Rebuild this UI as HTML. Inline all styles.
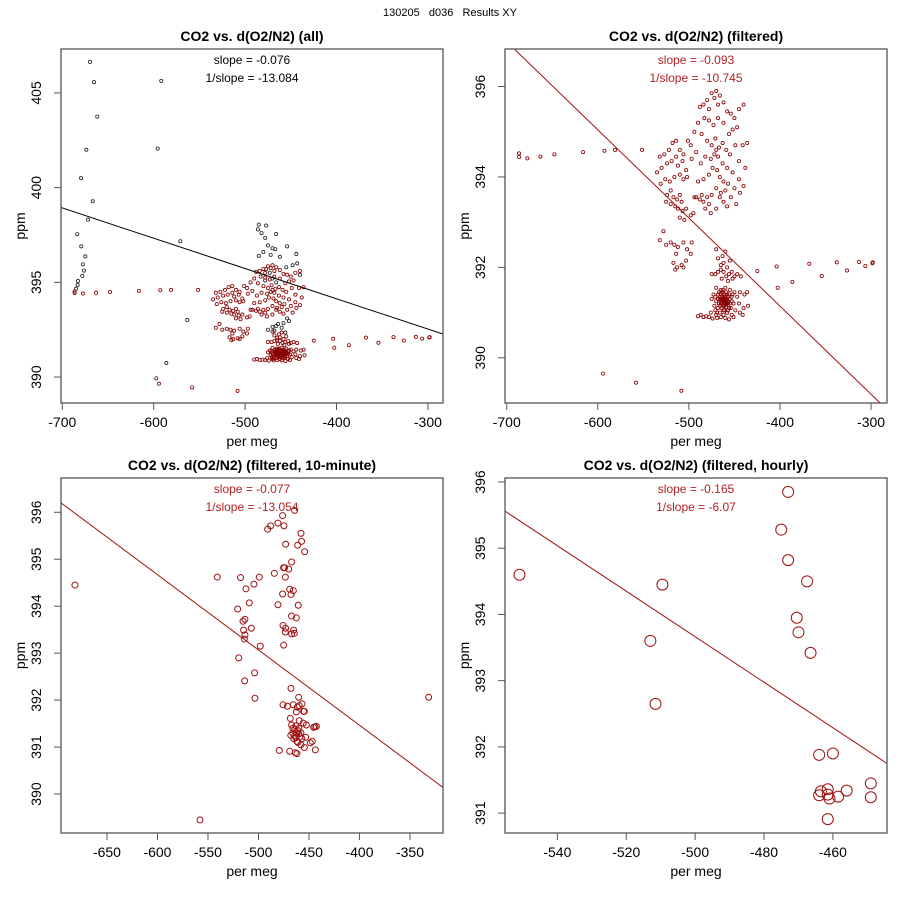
<!DOCTYPE html>
<html><head><meta charset="utf-8"><style>
html,body{margin:0;padding:0;background:#fff;}
svg{display:block;font-family:"Liberation Sans",sans-serif;}
</style></head><body>
<svg id="chart" width="900" height="900" viewBox="0 0 900 900">
<text x="450" y="16" text-anchor="middle" font-size="11" xml:space="preserve" style="white-space:pre">130205   d036   Results XY</text>
</svg>
<script>
// ---- data ----
const p1Ticks = {x:[-700,-600,-500,-400,-300], y:[390,395,400,405]};
const p2Ticks = {x:[-700,-600,-500,-400,-300], y:[390,392,394,396]};
const p3Ticks = {x:[-650,-600,-550,-500,-450,-400,-350], y:[390,391,392,393,394,395,396]};
const p4Ticks = {x:[-540,-520,-500,-480,-460], y:[391,392,393,394,395,396]};
const p1Slope = ["slope = -0.076","1/slope = -13.084"];
const p2Slope = ["slope = -0.093","1/slope = -10.745"];
const p3Slope = ["slope = -0.077","1/slope = -13.054"];
const p4Slope = ["slope = -0.165","1/slope = -6.07"];
const p1LineX = [-701.4,-283.5], p1LineY = [398.95,392.27];
const p2LineX = [-691.7,-290.1], p2LineY = [396.83,389.0];
const p3LineX = [-695.5,-317.3], p3LineY = [396.2,390.14];
const p4LineX = [-555.2,-444.3], p4LineY = [395.56,391.75];

const filtered = [
[-686.5,394.52],[-686.5,394.44],[-677.4,394.41],[-663,394.45],[-647.7,394.5],[-616.2,394.55],[-592.8,394.58],[-581,394.6],[-551.4,394.6],
[-424.9,391.92],[-403.6,392.02],[-402.5,391.55],[-386.4,391.68],[-367.8,392.08],[-354.1,391.81],[-337.7,392.11],[-326.4,391.93],[-313.2,392.12],[-306.3,392.03],[-298.1,392.11],[-298.5,392.09],
[-594.3,389.65],[-558,389.45],[-508.3,389.27],
[-475,395.85],[-470,395.9],[-466,395.8],[-480,395.7],[-484,395.6],[-488,395.55],[-478,395.5],[-472,395.75],[-468,395.6],[-462,395.65],[-458,395.45],[-454,395.4],[-450,395.3],[-445,395.5],[-440,395.6],[-447,395.1],[-452,395.05],[-456,394.95],[-462,395.2],[-468,395.3],[-473,395.15],[-478,395.25],[-483,395.3],[-490,395.2],[-494,395.0],[-486,394.95],[-480,394.8],[-475,394.7],[-471,394.85],[-467,394.65],[-463,394.75],[-459,394.6],[-455,394.5],[-449,394.7],[-441,394.7],[-436,394.75],[-470,394.6],[-472,394.5],[-468,394.45],[-476,394.4],[-482,394.45],[-487,394.3],[-492,394.55],[-497,394.4],[-463,394.3],[-458,394.2],[-452,394.1],[-445,394.35],[-438,394.2],[-474,394.2],[-469,394.15],[-478,394.05],[-484,393.95],[-490,393.9],[-466,394.0],[-462,393.9],[-457,393.85],[-450,393.75],[-445,393.95],[-440,393.8],[-470,393.75],[-475,393.6],[-480,393.55],[-486,393.6],[-492,393.55],[-466,393.55],[-462,393.45],[-458,393.35],[-454,393.55],[-448,393.4],[-470,393.3],[-476,393.2],[-482,393.3],[-465,393.65],[-460,393.7],[-444,393.65],
[-514,394.8],[-518,394.75],[-522,394.6],[-527,394.5],[-532,394.45],[-510,394.6],[-506,394.5],[-514,394.45],[-519,394.35],[-524,394.3],[-530,394.2],[-535,394.1],[-512,394.25],[-507,394.35],[-503,394.15],[-498,394.7],[-501,394.8],[-510,394.05],[-516,394.0],[-521,393.9],[-526,393.95],[-531,393.85],[-506,393.95],[-502,394.0],[-520,393.7],[-524,393.6],[-517,393.55],[-513,393.5],[-510,393.6],[-508,393.45],[-515,393.35],[-520,393.4],[-525,393.45],[-512,393.3],[-507,393.25],[-503,393.3],[-498,393.15],[-495,393.2],[-510,393.1],[-505,393.05],[-528,392.8],[-532,392.6],[-525,392.5],[-520,392.55],[-516,392.5],[-512,392.45],[-506,392.55],[-502,392.4],[-497,392.55],[-514,392.3],[-517,392.1],[-513,392.0],[-508,392.05],[-503,392.15],[-498,392.3],[-515,391.95],[-506,392.0],
[-494,393.55],[-488,393.5],[-484,393.45],[-478,393.4],
[-475,391.85],[-471,391.85],[-468,391.9],[-465,391.95],[-462,391.9],[-459,391.8],[-456,391.85],[-453,391.9],[-450,391.8],[-447,391.85],[-465,392.05],[-462,392.1],[-458,392.0],[-455,392.15],[-468,392.2],[-463,392.25],[-460,392.35],[-470,392.4],[-464,391.75],[-457,391.7],[-452,391.75],[-443,391.8],
[-470,391.55],[-465,391.5],[-460,391.55],[-455,391.5],[-450,391.45],[-444,391.45],[-439,391.4],[-436,391.45],[-473,391.4],[-468,391.4],[-463,391.45],[-458,391.4],[-453,391.35],[-447,391.35],[-475,391.3],[-470,391.25],[-466,391.3],[-462,391.3],[-459,391.25],[-455,391.3],[-451,391.2],[-445,391.2],[-440,391.1],[-435,391.15],[-472,391.15],[-468,391.1],[-464,391.2],[-461,391.15],[-457,391.2],[-454,391.1],[-449,391.05],[-444,391.0],[-441,390.95],[-476,391.0],[-471,391.05],[-466,391.0],[-462,391.05],[-458,391.0],[-453,390.95],[-478,390.9],[-474,390.87],[-469,390.88],[-465,390.9],[-460,390.88],[-456,390.85],[-451,390.9],[-463,391.25],[-461,391.35],[-459,391.3],[-464,391.35],[-460,391.2],[-462,391.4],[-466,391.15],[-457,391.35],[-467,391.45],[-456,391.1],[-452,391.4],[-470,390.95],[-490,390.92],[-487,390.95],[-484,390.9],[-481,390.92],
[-463,391.28],[-461,391.22],[-459,391.18],[-465,391.22],[-462,391.32],[-460,391.28],[-458,391.22],[-464,391.1],[-461,391.4],[-463,391.5]
];
const filteredCore = [
[-467,391.2],[-466,391.35],[-464,391.28],[-463,391.15],[-462,391.22],[-460,391.35],[-459,391.12],[-458,391.3],[-457,391.25],[-456,391.4],[-455,391.2],[-468,391.3],[-465,391.42],[-461,391.05],[-459,391.45],[-462,390.95],[-457,391.05],[-453,391.25],[-471,391.35],[-469,391.0]
];
const excluded = [
[-669.6,406.64],[-665.3,405.57],[-591.7,405.64],[-661.7,403.75],[-673.7,402.0],[-595.6,402.06],[-679.5,400.5],[-666.7,399.28],[-671.9,398.31],[-683.6,397.54],[-570.9,397.17],[-679.2,396.9],[-674.8,396.37],[-677.4,395.95],[-676.3,395.62],[-678.1,395.34],[-682.8,395.07],[-683.2,394.86],[-685.0,394.66],[-563.2,393.01],[-586.2,390.74],[-597.2,389.93],
[-485,398.05],[-477,398.0],[-486,397.8],[-482,397.6],[-466,397.55],[-478,397.35],[-454,396.9],[-475,396.95],[-470,396.8],[-467,396.75],[-480,396.6],[-444,396.5],[-485,396.4],[-472,396.45],[-462,396.35],[-443,396.0],[-448,395.9],[-455,395.8],[-440,395.4],[-477,395.7],[-473,395.5],[-470,395.2],[-466,395.0],[-478,395.1],[-454,393.1],[-452,392.95],[-464,392.8],[-470,392.65],[-460,392.6],[-468,392.45],[-475,392.5],[-456,392.35],[-458,392.85],[-466,392.7]
];
const tenMin = [
[-681.7,394.45],[-557.9,389.45],[-331.5,392.06],[-540.8,394.62],[-517.7,394.61],[-499.2,394.62],[-504.5,394.47],[-512.4,394.37],[-509.1,394.07],[-520.6,393.94],[-513.4,393.72],[-515.3,393.68],[-514.7,393.49],[-507.1,393.53],[-513.4,393.39],[-514,393.3],[-498.2,393.15],[-519.6,392.9],[-503.8,392.58],[-513.7,392.41],[-503.5,392.04],
[-476.1,395.93],[-464.2,396.04],[-490.9,395.64],[-488,395.71],[-480.7,395.77],[-474.8,395.71],[-457.9,395.55],[-457.3,395.38],[-473.1,395.32],[-461.2,395.3],[-454.3,395.16],[-467.2,394.94],[-475.1,394.82],[-474.1,394.82],[-470.1,394.79],[-484.3,394.70],[-473.4,394.62],[-465.5,394.33],[-469.1,394.36],[-476.1,394.26],[-467.8,394.25],[-480.7,394.03],[-460.6,394.02],[-467.2,393.79],[-462.5,393.75],[-475.7,393.59],[-473.1,393.53],[-465.2,393.49],[-473.4,393.45],[-467.2,393.41],[-464.5,393.42],[-475.1,393.17],
[-467.8,392.25],[-460.2,392.06],[-475.7,391.9],[-471.3,391.87],[-465.5,391.9],[-461.5,391.85],[-459.6,391.88],[-456.9,391.92],[-462.5,391.75],[-455.3,391.76],[-454.6,391.76],[-468.5,391.61],[-459.6,391.56],[-467.2,391.47],[-463,391.45],[-455.6,391.51],[-452.6,391.47],[-445.4,391.42],[-444.1,391.43],[-442.7,391.44],
[-466,391.3],[-464,391.25],[-462,391.3],[-460,391.28],[-463,391.2],[-461,391.35],[-465,391.18],[-459,391.22],[-462,391.12],[-464,391.38],[-460,391.4],[-458,391.3],[-466,391.4],[-457,391.18],[-461,391.1],[-468,391.25],
[-453.3,391.21],[-446.7,391.12],[-448.7,391.09],[-454.6,390.99],[-443.7,390.94],[-479.4,390.93],[-469.1,390.91],[-463.5,390.88],[-461.9,390.86],[-458,391.05]
];
const hourly = [
[-551,394.6],[-509.5,394.45],[-513,393.6],[-511.5,392.65],[-475,395.28],[-473,395.85],[-473,394.82],[-467.5,394.5],[-470.5,393.95],[-470,393.73],[-466.5,393.42],[-464,391.88],[-460,391.9],[-464,391.27],[-463.5,391.33],[-461.5,391.36],[-461,391.22],[-461.5,391.28],[-458.5,391.25],[-456,391.34],[-461.5,390.91],[-449,391.45],[-449,391.24]
];

// ---- drawing ----
const NS="http://www.w3.org/2000/svg";
const svg=document.getElementById('chart');
function mk(tag,attrs,parent){const e=document.createElementNS(NS,tag);for(const k in attrs)e.setAttribute(k,attrs[k]);(parent||svg).appendChild(e);return e;}

const panels=[
 {id:'all',title:'CO2 vs. d(O2/N2) (all)',box:[61,49,443,403],xd:[-701.4,-283.5],yd:[388.63,407.32],ticks:p1Ticks,slope:p1Slope,lx:p1LineX,ly:p1LineY,lineColor:'#000',textColor:'#000',series:[{d:excluded,c:'#222',r:1.6},{d:filtered,c:'#8b0000',r:1.6},{d:filteredCore,c:'#8b0000',r:1.6}],ylab:41,ppm:25},
 {id:'filtered',title:'CO2 vs. d(O2/N2) (filtered)',box:[505,49,887,403],xd:[-701.9,-282.5],yd:[389.0,396.83],ticks:p2Ticks,slope:p2Slope,lx:p2LineX,ly:p2LineY,lineColor:'#a01010',textColor:'#b22222',series:[{d:filtered,c:'#8b0000',r:1.6},{d:filteredCore,c:'#8b0000',r:1.6}],ylab:485,ppm:469},
 {id:'ten-minute',title:'CO2 vs. d(O2/N2) (filtered, 10-minute)',box:[61,478,443,833],xd:[-695.5,-317.3],yd:[389.17,396.73],ticks:p3Ticks,slope:p3Slope,lx:p3LineX,ly:p3LineY,lineColor:'#a01010',textColor:'#b22222',series:[{d:tenMin,c:'#a01010',r:3}],ylab:41,ppm:25},
 {id:'hourly',title:'CO2 vs. d(O2/N2) (filtered, hourly)',box:[505,478,887,833],xd:[-555.2,-444.3],yd:[390.70,396.06],ticks:p4Ticks,slope:p4Slope,lx:p4LineX,ly:p4LineY,lineColor:'#a01010',textColor:'#b22222',series:[{d:hourly,c:'#a01010',r:5.5}],ylab:485,ppm:469}
];

panels.forEach(p=>{
 const [x0,y0,x1,y1]=p.box;
 const sx=v=>x0+(v-p.xd[0])/(p.xd[1]-p.xd[0])*(x1-x0);
 const sy=v=>y1-(v-p.yd[0])/(p.yd[1]-p.yd[0])*(y1-y0);
 const g=mk('g',{});
 
 
 const t=mk('text',{x:(x0+x1)/2,y:y0-8,'text-anchor':'middle','font-size':14,'font-weight':'bold'},g);
 t.textContent=p.title;
 
 
 const cp=mk('clipPath',{id:'clip-'+p.id},g);
 mk('rect',{x:x0,y:y0,width:x1-x0,height:y1-y0},cp);
 const pts=mk('g',{'clip-path':'url(#clip-'+p.id+')'},g);
 
 
 p.series.forEach(s=>{
  s.d.forEach(pt=>{
   const c=mk('circle',{cx:sx(pt[0]),cy:sy(pt[1]),r:s.r,fill:'none',stroke:s.c,'stroke-width':s.r>2?1:0.8},pts);
   
   
  });
 });
 const ln=mk('line',{x1:sx(p.lx[0]),y1:sy(p.ly[0]),x2:sx(p.lx[1]),y2:sy(p.ly[1]),stroke:p.lineColor,'stroke-width':1,'clip-path':'url(#clip-'+p.id+')'},g);
 
 
 const fr=mk('rect',{x:x0,y:y0,width:x1-x0,height:y1-y0,fill:'none',stroke:'#555','stroke-width':1.3},g);
 
 
 p.slope.forEach((s,i)=>{
  const st=mk('text',{x:(x0+x1)/2,y:y0+15+i*18,'text-anchor':'middle','font-size':12,fill:p.textColor},g);
  st.textContent=s;
  
  
 });
 const xs=p.ticks.x;
 mk('line',{x1:sx(xs[0]),y1:y1,x2:sx(xs[xs.length-1]),y2:y1,stroke:'#555'},g);
 xs.forEach(v=>{
  mk('line',{x1:sx(v),y1:y1,x2:sx(v),y2:y1+7,stroke:'#555'},g);
  const tl=mk('text',{x:sx(v),y:y1+24,'text-anchor':'middle','font-size':14},g);
  tl.textContent=v;
  
  
 });
 const xl=mk('text',{x:(x0+x1)/2,y:y1+43,'text-anchor':'middle','font-size':14},g);
 xl.textContent='per meg';
 
 
 const ys=p.ticks.y;
 mk('line',{x1:x0,y1:sy(ys[0]),x2:x0,y2:sy(ys[ys.length-1]),stroke:'#555'},g);
 ys.forEach(v=>{
  mk('line',{x1:x0,y1:sy(v),x2:x0-7,y2:sy(v),stroke:'#555'},g);
  const yl=mk('text',{x:p.ylab,y:sy(v),'text-anchor':'middle','font-size':14,transform:'rotate(-90 '+p.ylab+' '+sy(v)+')'},g);
  yl.textContent=v;
  
  
 });
 const yc=(y0+y1)/2;
 const yt=mk('text',{x:p.ppm,y:yc,'text-anchor':'middle','font-size':14,transform:'rotate(-90 '+p.ppm+' '+yc+')'},g);
 yt.textContent='ppm';
 
 
});
</script>
</body></html>
